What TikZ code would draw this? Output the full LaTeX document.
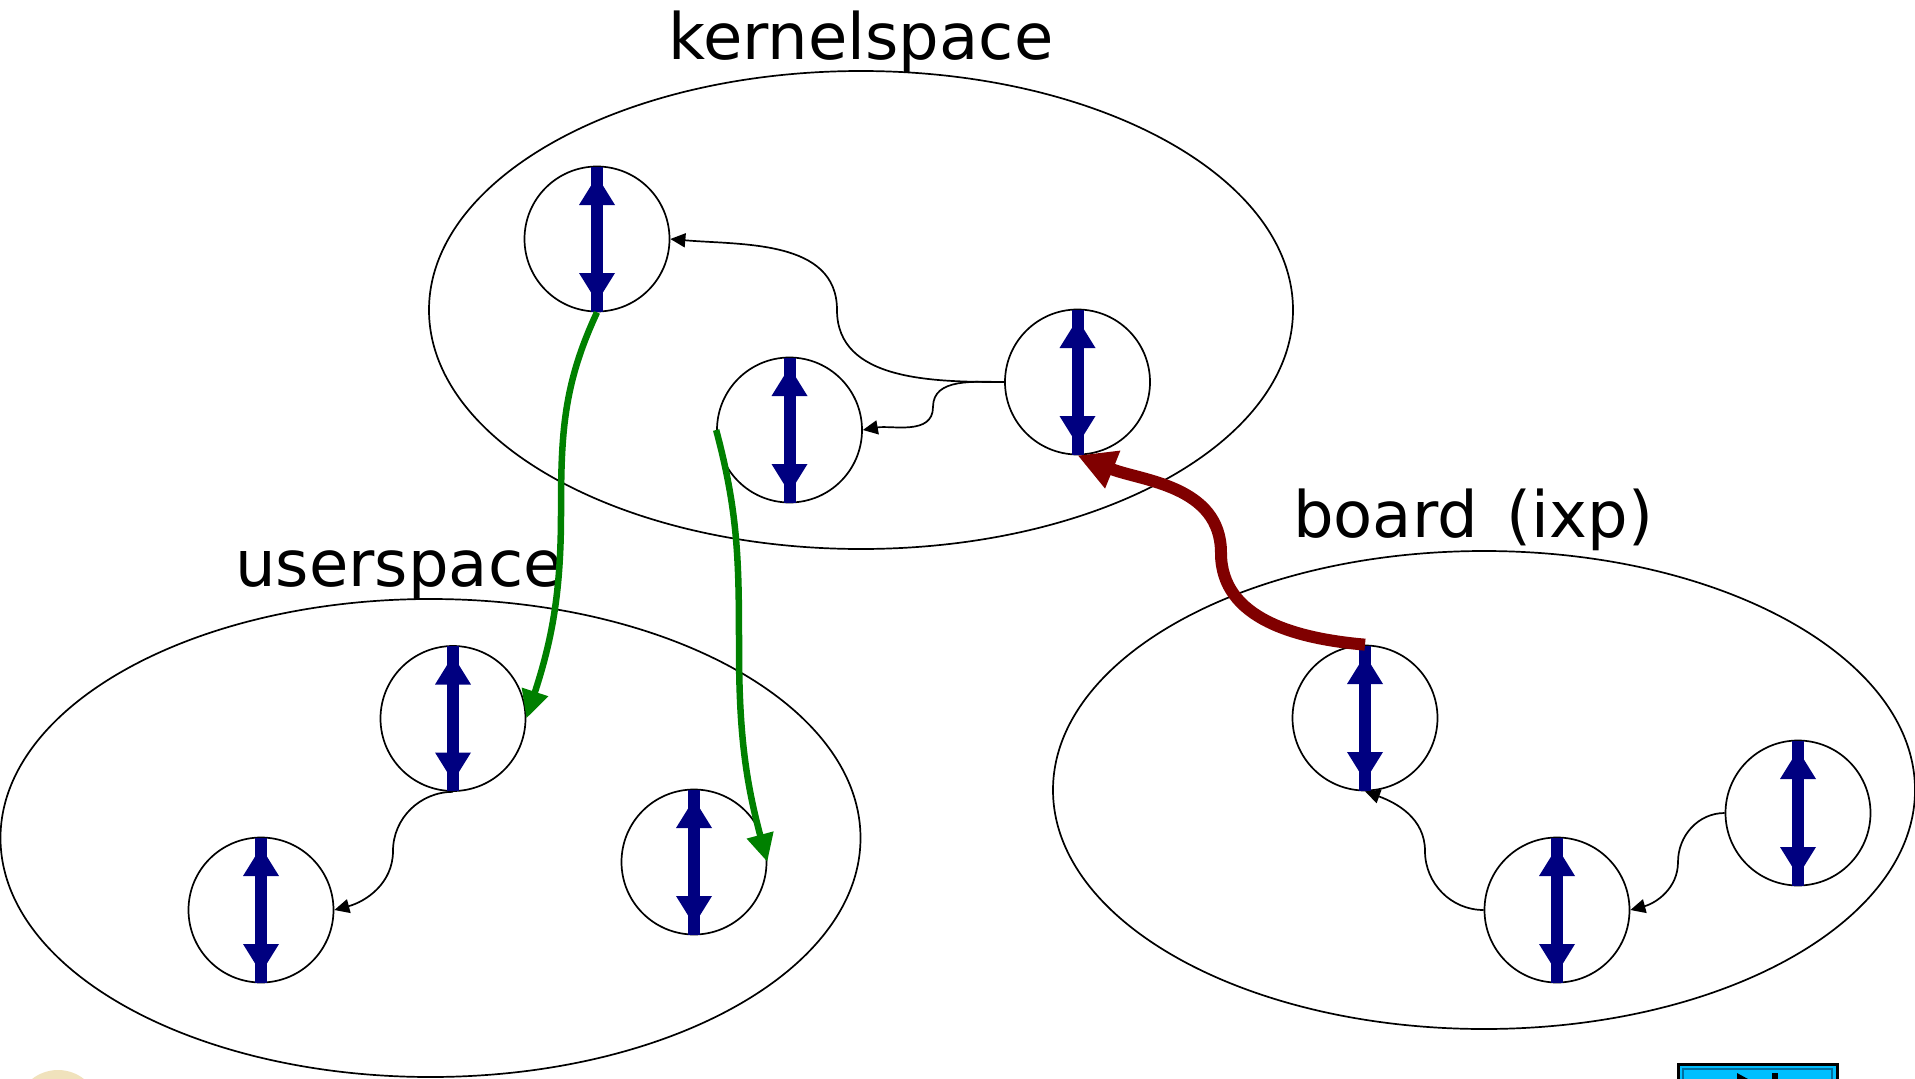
\documentclass[tikz,border=0pt]{standalone}
\usepackage{fontspec}
\setmainfont{DejaVu Sans}
\usetikzlibrary{arrows.meta}
\definecolor{navyb}{RGB}{0,0,128}
\definecolor{greenarr}{RGB}{0,128,0}
\definecolor{redarr}{RGB}{128,0,0}
\definecolor{skyb}{RGB}{0,191,255}
\definecolor{sealbeige}{RGB}{240,226,188}
\begin{document}
\begin{tikzpicture}[x=1pt,y=1pt,
  proc/.style={circle,draw,line width=1.7pt,minimum size=145pt,inner sep=0pt},
  spaceline/.style={line width=1.7pt},
  lbl/.style={font=\fontsize{64}{76}\selectfont,anchor=base,inner sep=0pt},
  thinarr/.style={line width=1.7pt,-{Triangle[length=15pt,width=14pt]}},
  gflow/.style={draw=greenarr,line width=6.5pt,-{Triangle[length=28pt,width=26pt]}},
  rflow/.style={draw=redarr,line width=12pt,-{Triangle[length=38pt,width=38pt]}},
  dbl/.pic={
    \fill[navyb] (-6,-72.5) rectangle (6,72.5);
    \fill[navyb] (0,63) -- (-18,34) -- (18,34) -- cycle;
    \fill[navyb] (0,-63) -- (-18,-34) -- (18,-34) -- cycle;
  }]
\useasboundingbox (0,0) rectangle (1915,-1079);
\clip (0,0) rectangle (1915,-1079);
\fill[white] (0,0) rectangle (1915,-1079);

% spaces
\draw[spaceline] (861,-310) ellipse [x radius=432, y radius=239];
\draw[spaceline] (430.5,-838) ellipse [x radius=430, y radius=239];
\draw[spaceline] (1484,-790) ellipse [x radius=431, y radius=239];

% labels
\node[lbl] (kt) at (861,-59) {kernelspace};
\node[lbl] (ut) at (399,-586) {userspace};
\node[lbl] (bt) at (1473,-537) {board\hspace{0.45em}(ixp)};

% processes
\node[proc] (K1) at (597,-239) {};
\node[proc] (K2) at (789.5,-430) {};
\node[proc] (K3) at (1077.5,-382) {};
\node[proc] (U1) at (453,-718.5) {};
\node[proc] (U2) at (261,-910) {};
\node[proc] (U3) at (694,-862) {};
\node[proc] (B1) at (1365,-718) {};
\node[proc] (B2) at (1557,-910) {};
\node[proc] (B3) at (1798,-813) {};
\foreach \n in {K1,K2,K3,U1,U2,U3,B1,B2,B3} { \pic at (\n) {dbl}; }

% thin connectors
\coordinate (a1m) at (837,-310);
\coordinate (a2m) at (933,-407);
\coordinate (a3m) at (393,-851);
\coordinate (a4m) at (1425,-851);
\coordinate (a5m) at (1678,-862);
\draw[thinarr] (K3.west) to[out=180,in=-90] (a1m) to[out=90,in=-5] (K1.east);
\draw[thinarr] (K3.west) to[out=180,in=90] (a2m) to[out=-90,in=10] (K2.east);
\draw[thinarr] (U1.south) to[out=180,in=90] (a3m) to[out=-90,in=15] (U2.east);
\draw[thinarr] (B2.west) to[out=180,in=-90] (a4m) to[out=90,in=-20] (B1.south);
\draw[thinarr] (B3.west) to[out=180,in=90] (a5m) to[out=-90,in=15] (B2.east);

% green flows
\coordinate (g1m) at (561,-513);
\coordinate (g2m) at (739,-647);
\draw[gflow] (K1.south) to[out=-115,in=90] (g1m) to[out=-90,in=72] (U1.east);
\draw[gflow] (K2.west) to[out=-75,in=90] (g2m) to[out=-90,in=105] (U3.east);

% red flow
\coordinate (rm) at (1221,-553);
\draw[rflow] (B1.north) to[out=175,in=-90] (rm) to[out=90,in=-22] (K3.south);

% partially visible bottom decorations
\fill[sealbeige] (58,-1112) circle (42);
\filldraw[fill=skyb,draw=black,line width=3pt] (1678,-1064) rectangle (1837,-1110);
\draw[line width=1.2pt,draw={rgb,255:red,0;green,110;blue,160}] (1683,-1069) rectangle (1832,-1110);
\fill[black] (1737,-1073) -- (1737,-1110) -- (1770,-1091) -- cycle;
\fill[black] (1772,-1073) rectangle (1778,-1110);
\end{tikzpicture}
\end{document}
